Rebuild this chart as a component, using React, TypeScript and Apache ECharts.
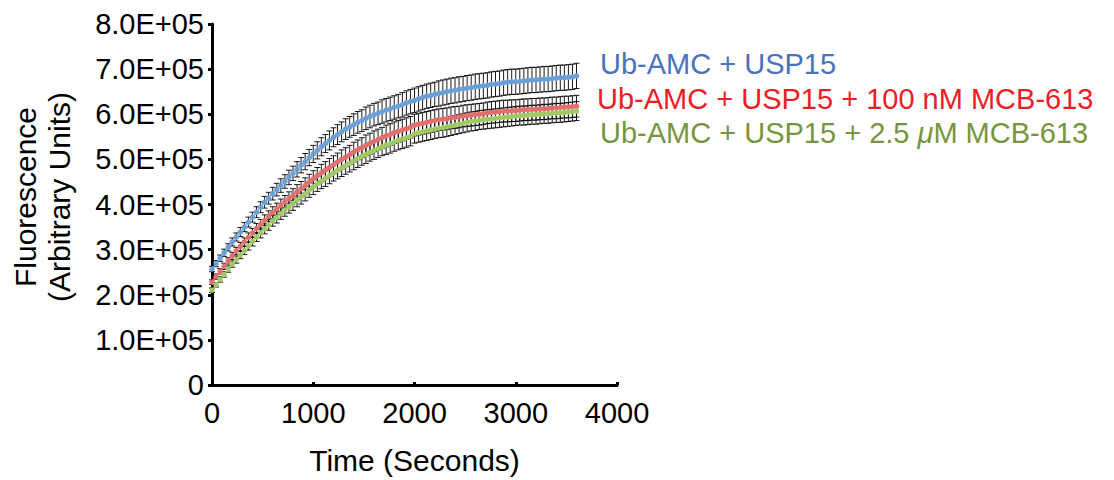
import React, { useEffect, useRef } from "react";
import * as echarts from "echarts";

// Time points (seconds)
const times = [
  0, 40, 80, 120, 160, 200, 240, 280, 320, 360,
  400, 440, 480, 520, 560, 600, 640, 680, 720, 760,
  800, 840, 880, 920, 960, 1000, 1040, 1080, 1120, 1160,
  1200, 1240, 1280, 1320, 1360, 1400, 1440, 1480, 1520, 1560,
  1600, 1640, 1680, 1720, 1760, 1800, 1840, 1880, 1920, 1960,
  2000, 2040, 2080, 2120, 2160, 2200, 2240, 2280, 2320, 2360,
  2400, 2440, 2480, 2520, 2560, 2600, 2640, 2680, 2720, 2760,
  2800, 2840, 2880, 2920, 2960, 3000, 3040, 3080, 3120, 3160,
  3200, 3240, 3280, 3320, 3360, 3400, 3440, 3480, 3520, 3560,
  3600,
];

// Fluorescence values (thousands of arbitrary units)
const usp15 = [
  257, 269, 281, 293, 305, 317, 328, 339, 350, 361,
  372, 383, 394, 405, 414, 424, 433, 442, 451, 460,
  469, 478, 487, 495, 504, 512, 520, 528, 535, 542,
  549, 555, 561, 567, 572, 577, 582, 586, 591, 595,
  599, 602, 606, 609, 612, 615, 618, 621, 625, 628,
  631, 634, 637, 640, 642, 644, 646, 648, 650, 652,
  653, 655, 656, 658, 659, 661, 662, 663, 664, 666,
  667, 668, 670, 671, 672, 672, 673, 674, 675, 676,
  676, 677, 678, 678, 679, 680, 681, 681, 682, 683,
  685,
];
const usp15Err = [
  6, 7, 7, 8, 8, 9, 9, 10, 10, 11,
  11, 12, 12, 13, 13, 14, 14, 15, 15, 16,
  16, 17, 17, 18, 18, 19, 19, 20, 20, 21,
  21, 22, 22, 23, 23, 24, 24, 24, 25, 25,
  25, 25, 26, 26, 26, 26, 26, 27, 27, 27,
  27, 27, 27, 27, 27, 27, 28, 28, 28, 28,
  28, 28, 28, 28, 28, 28, 28, 28, 28, 28,
  28, 28, 28, 28, 28, 28, 28, 28, 28, 28,
  28, 28, 28, 28, 28, 28, 28, 28, 28, 28,
  28,
];

const mcb100nM = [
  228, 240, 252, 263, 275, 286, 297, 307, 317, 327,
  337, 347, 356, 365, 374, 382, 390, 398, 406, 413,
  420, 428, 435, 442, 450, 457, 464, 470, 476, 482,
  488, 494, 500, 505, 510, 516, 521, 526, 531, 535,
  540, 544, 548, 552, 555, 559, 562, 565, 568, 571,
  576, 578, 580, 582, 584, 586, 588, 589, 590, 592,
  593, 594, 596, 597, 598, 599, 600, 601, 603, 604,
  605, 606, 607, 607, 608, 608, 609, 610, 610, 611,
  611, 612, 612, 613, 614, 614, 615, 616, 616, 617,
  618,
];
const mcb100nMErr = [
  5, 6, 6, 7, 7, 8, 8, 9, 9, 10,
  10, 11, 11, 12, 12, 13, 13, 14, 14, 15,
  15, 16, 16, 17, 17, 18, 18, 19, 19, 20,
  20, 20, 21, 21, 21, 22, 22, 22, 23, 23,
  23, 23, 23, 24, 24, 24, 24, 24, 24, 24,
  24, 24, 24, 24, 24, 24, 24, 24, 24, 24,
  24, 24, 24, 24, 24, 24, 24, 24, 24, 24,
  24, 24, 24, 24, 24, 24, 24, 24, 24, 24,
  24, 24, 24, 24, 24, 24, 24, 24, 24, 24,
  24,
];

const mcb2500nM = [
  210, 222, 234, 245, 257, 268, 278, 288, 298, 308,
  318, 328, 337, 346, 355, 364, 372, 380, 388, 395,
  402, 410, 417, 424, 432, 439, 446, 452, 458, 464,
  470, 476, 481, 486, 491, 497, 502, 507, 511, 516,
  520, 524, 528, 532, 535, 539, 542, 545, 548, 551,
  557, 559, 561, 563, 565, 567, 569, 570, 572, 574,
  576, 578, 580, 582, 584, 585, 587, 588, 589, 590,
  591, 592, 593, 594, 595, 596, 597, 597, 598, 599,
  599, 600, 601, 601, 602, 603, 603, 604, 605, 606,
  607,
];
const mcb2500nMErr = [
  5, 5, 6, 6, 7, 7, 8, 8, 9, 9,
  10, 10, 11, 11, 12, 12, 13, 13, 14, 14,
  15, 15, 16, 16, 16, 17, 17, 17, 18, 18,
  18, 19, 19, 19, 19, 20, 20, 20, 20, 20,
  20, 20, 20, 21, 21, 21, 21, 21, 21, 21,
  21, 21, 21, 21, 21, 21, 21, 21, 21, 21,
  21, 21, 21, 21, 21, 21, 21, 21, 21, 21,
  21, 21, 21, 21, 21, 21, 21, 21, 21, 21,
  21, 21, 21, 21, 21, 21, 21, 21, 21, 21,
  21,
];

const seriesNames = [
  "Ub-AMC + USP15",
  "Ub-AMC + USP15 + 100 nM MCB-613",
  "Ub-AMC + USP15 + 2.5 μM MCB-613",
];
const UNIT = 1000;

const FONT = "'Liberation Sans', Arial, Helvetica, sans-serif";

export default function App() {
  const ref = useRef<HTMLDivElement>(null);

  useEffect(() => {
    if (!ref.current) return;
    const chart = echarts.init(ref.current, undefined, { renderer: "svg" });

    const sets = [
      { vals: usp15, errs: usp15Err, dot: "#6c9fd6", line: "#9dc0e6" },
      { vals: mcb100nM, errs: mcb100nMErr, dot: "#e36e6e", line: "#eea0a0" },
      { vals: mcb2500nM, errs: mcb2500nMErr, dot: "#a2c766", line: "#c4dc9c" },
    ];

    const errSeries = sets.map((s, k) => ({
      type: "custom",
      name: "err" + k,
      z: 1,
      data: times.map((t, i) => [
        t,
        (s.vals[i] - s.errs[i]) * UNIT,
        (s.vals[i] + s.errs[i]) * UNIT,
      ]),
      encode: { x: 0, y: [1, 2] },
      renderItem: (params: any, api: any) => {
        const t = api.value(0);
        const lo = api.coord([t, api.value(1)]);
        const hi = api.coord([t, api.value(2)]);
        const w = 3;
        const style = { stroke: "#000", lineWidth: 0.9 };
        return {
          type: "group",
          children: [
            { type: "line", shape: { x1: lo[0], y1: lo[1], x2: hi[0], y2: hi[1] }, style },
            { type: "line", shape: { x1: hi[0] - w, y1: hi[1], x2: hi[0] + w, y2: hi[1] }, style },
            { type: "line", shape: { x1: lo[0] - w, y1: lo[1], x2: lo[0] + w, y2: lo[1] }, style },
          ],
        };
      },
    }));

    const dotSeries = sets.map((s, k) => ({
      type: "line",
      name: seriesNames[k],
      z: 3 + k,
      data: times.map((t, i) => [t, s.vals[i] * UNIT]),
      symbol: "circle",
      symbolSize: 5.5,
      showSymbol: true,
      lineStyle: { color: s.line, width: 1.2 },
      itemStyle: { color: s.dot, borderWidth: 0 },
    }));

    const option: any = {
      animation: false,
      backgroundColor: "#ffffff",
      grid: { left: 212, right: 497, top: 24, bottom: 92, containLabel: false },
      xAxis: {
        type: "value",
        min: 0,
        max: 4000,
        interval: 1000,
        splitLine: { show: false },
        axisLine: { show: true, lineStyle: { color: "#000", width: 3 } },
        axisTick: { show: true, inside: true, length: 3, lineStyle: { color: "#000", width: 3 } },
        axisLabel: {
          color: "#000",
          fontSize: 29,
          fontFamily: FONT,
          margin: 13,
          formatter: (v: number) => String(v),
        },
        name: "Time (Seconds)",
        nameLocation: "middle",
        nameGap: 60,
        nameTextStyle: { color: "#000", fontSize: 30, fontFamily: FONT, verticalAlign: "top" },
      },
      yAxis: {
        type: "value",
        min: 0,
        max: 800000,
        interval: 100000,
        splitLine: { show: false },
        axisLine: { show: true, lineStyle: { color: "#000", width: 3 } },
        axisTick: { show: true, inside: false, length: 4, lineStyle: { color: "#000", width: 3 } },
        axisLabel: {
          color: "#000",
          fontSize: 29,
          fontFamily: FONT,
          margin: 8,
          formatter: (v: number) => (v === 0 ? "0" : (v / 100000).toFixed(1) + "E+05"),
        },
      },
      series: [...errSeries, ...dotSeries],
      graphic: [
        {
          type: "text",
          x: 25,
          y: 197,
          rotation: Math.PI / 2,
          style: {
            text: "Fluorescence",
            font: `30px ${FONT}`,
            fill: "#000",
            align: "center",
            verticalAlign: "middle",
          },
        },
        {
          type: "text",
          x: 59,
          y: 197,
          rotation: Math.PI / 2,
          style: {
            text: "(Arbitrary Units)",
            font: `30px ${FONT}`,
            fill: "#000",
            align: "center",
            verticalAlign: "middle",
          },
        },
        {
          type: "text",
          x: 600,
          y: 64,
          style: {
            text: seriesNames[0],
            font: `29px ${FONT}`,
            fill: "#4a72bd",
            align: "left",
            verticalAlign: "middle",
          },
        },
        {
          type: "text",
          x: 597,
          y: 99,
          style: {
            text: seriesNames[1],
            font: `29px ${FONT}`,
            fill: "#ee1c25",
            align: "left",
            verticalAlign: "middle",
          },
        },
        {
          type: "text",
          x: 600,
          y: 133,
          style: {
            text: "{a|Ub-AMC + USP15 + 2.5 }{i|μ}{a|M MCB-613}",
            fill: "#77953f",
            align: "left",
            verticalAlign: "middle",
            rich: {
              a: { fontSize: 29, fontFamily: FONT, fill: "#77953f" },
              i: { fontSize: 29, fontFamily: FONT, fontStyle: "italic", fill: "#77953f" },
            },
          },
        },
      ],
    };

    chart.setOption(option);
    return () => chart.dispose();
  }, []);

  return <div ref={ref} style={{ width: 1114, height: 480, position: "absolute", left: 0, top: 0 }} />;
}
